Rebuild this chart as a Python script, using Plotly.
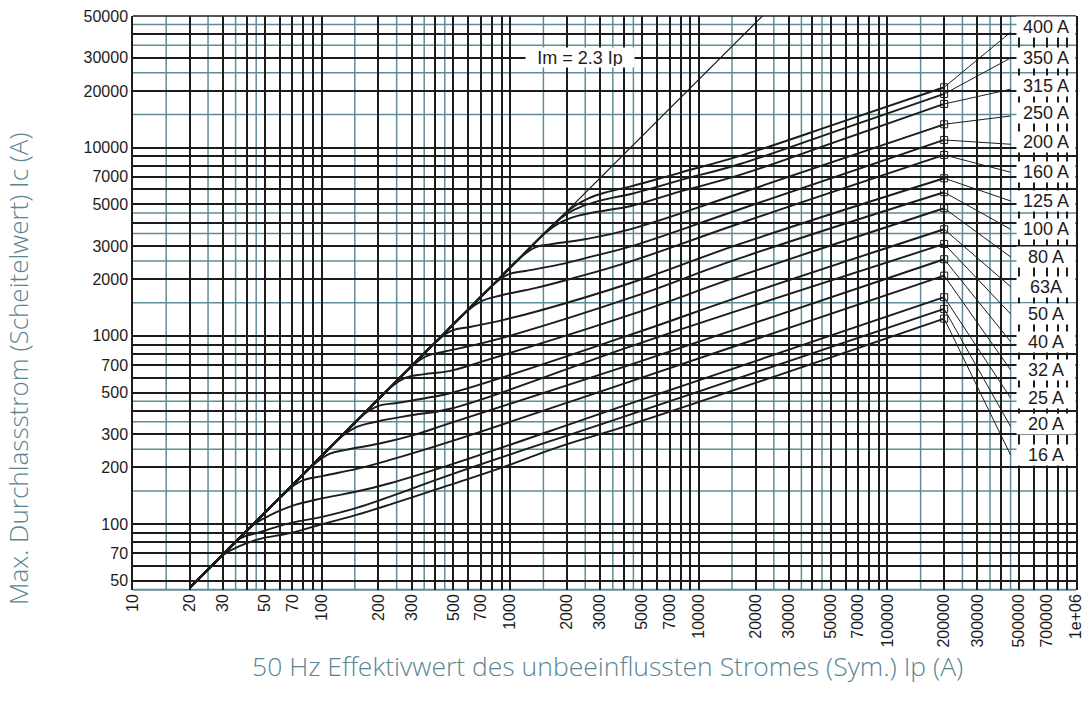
import math
import plotly.graph_objects as go

# ---------------- data ----------------
ratings = ["16 A", "20 A", "25 A", "32 A", "40 A", "50 A", "63A", "80 A",
           "100 A", "125 A", "160 A", "200 A", "250 A", "315 A", "350 A", "400 A"]

ip_16 = [20, 25, 31, 45, 68, 102, 153, 230, 480, 919, 1912, 4315, 200000]
ic_16 = [46, 57.5, 70, 82.5, 89.6, 100.4, 112, 127, 161.7, 201, 262, 337, 1235]
ip_20 = [20, 28, 37, 45.3, 68, 102, 153.5, 230.5, 480, 4315, 200000]
ic_20 = [46, 64.4, 84, 89.6, 101.2, 109.7, 122, 140, 182.7, 382, 1391]
ip_25 = [20, 32, 44, 50, 68, 102, 153.5, 230.5, 480, 4315, 200000]
ic_25 = [46, 73.6, 100, 108, 124, 137.4, 149, 165, 206.5, 437, 1605]
ip_32 = [20, 40, 62, 76.7, 102, 153.5, 230.5, 480, 4315, 200000]
ic_32 = [46, 92, 142, 168, 180.5, 196.6, 219.5, 274.6, 572, 2089]
ip_40 = [20, 55, 90, 110, 135, 206, 317, 480, 4315, 200000]
ic_40 = [46, 126.5, 205, 236, 248, 269, 300, 344, 701, 2553]
ip_50 = [20, 80, 125, 150, 200, 305, 480, 4315, 16540, 200000]
ic_50 = [46, 184, 286, 325, 352, 380, 410, 877, 1374, 3078]
ip_63 = [20, 110, 165, 200, 250, 359, 480, 4315, 16540, 200000]
ic_63 = [46, 253, 378, 425, 440, 468, 496, 1012, 1617, 3684]
ip_80 = [20, 150, 230, 280, 350, 480, 700, 4315, 16540, 200000]
ic_80 = [46, 345, 528, 600, 626, 652, 728, 1292, 2082, 4764]
ip_100 = [20, 200, 295, 360, 450, 666, 1024, 4315, 16540, 200000]
ic_100 = [46, 460, 678, 780, 826, 901, 1009, 1590, 2585, 5793]
ip_125 = [20, 250, 400, 490, 620, 936, 1440, 4315, 16540, 200000]
ic_125 = [46, 575, 920, 1065, 1118, 1221, 1364, 1904, 3078, 6875]
ip_160 = [20, 350, 575, 700, 900, 1373, 2112, 4315, 16540, 200000]
ic_160 = [46, 805, 1322, 1525, 1643, 1798, 2013, 2480, 3965, 9140]
ip_200 = [20, 500, 800, 975, 1200, 1812, 2788, 4315, 16540, 200000]
ic_200 = [46, 1150, 1840, 2120, 2210, 2390, 2660, 2978, 4705, 10980]
ip_250 = [20, 700, 1130, 1370, 1650, 2483, 4315, 16540, 200000]
ic_250 = [46, 1610, 2599, 2960, 3070, 3260, 3680, 5721, 13300]
ip_315 = [20, 900, 1500, 1800, 2300, 3250, 4315, 8000, 16540, 60000, 200000]
ic_315 = [46, 2070, 3450, 3950, 4350, 4650, 4880, 5850, 7157, 11200, 17050]
ip_350 = [20, 1000, 1650, 2000, 2400, 3250, 4315, 8000, 16540, 60000, 200000]
ic_350 = [46, 2300, 3795, 4450, 4870, 5330, 5654, 6720, 8186, 12740, 19270]
ip_400 = [20, 1000, 1800, 2200, 2600, 3250, 4315, 8000, 16540, 60000, 200000]
ic_400 = [46, 2300, 4140, 4900, 5380, 5800, 6203, 7370, 9028, 13900, 20915]

curves_ip = [ip_16, ip_20, ip_25, ip_32, ip_40, ip_50, ip_63, ip_80,
             ip_100, ip_125, ip_160, ip_200, ip_250, ip_315, ip_350, ip_400]
curves_ic = [ic_16, ic_20, ic_25, ic_32, ic_40, ic_50, ic_63, ic_80,
             ic_100, ic_125, ic_160, ic_200, ic_250, ic_315, ic_350, ic_400]

# thin leader from the marker (at 200 kA) to the label column
end_ip = 450000
end_ic = [233, 330, 468, 660, 932, 1308, 1826, 2626, 3684, 5208, 7398,
          10420, 14720, 20410, 29920, 40980]

# envelope Im = 2.3 Ip
env_ip = [20, 30000]
env_ic = [46, 69000]
env_label = "Im = 2.3 Ip"

x_tick_vals = [10, 20, 30, 50, 70, 100, 200, 300, 500, 700, 1000, 2000, 3000, 5000, 7000,
               10000, 20000, 30000, 50000, 70000, 100000, 200000, 300000, 500000, 700000, 1000000]
x_tick_text = ["10", "20", "30", "50", "70", "100", "200", "300", "500", "700", "1000", "2000",
               "3000", "5000", "7000", "10000", "20000", "30000", "50000", "70000", "100000",
               "200000", "300000", "500000", "700000", "1e+06"]
y_tick_vals = [50, 70, 100, 200, 300, 500, 700, 1000, 2000, 3000, 5000, 7000, 10000,
               20000, 30000, 50000]
y_tick_text = [str(v) for v in y_tick_vals]

x_title = "50 Hz Effektivwert des unbeeinflussten Stromes (Sym.) Ip (A)"
y_title = "Max. Durchlassstrom (Scheitelwert) Ic (A)"

# ---------------- styling ----------------
BLACK = "#1c1c1c"
TEAL = "#5f8d95"
TITLE = "#5c8593"
TXT = "Liberation Sans, Arial, sans-serif"
TFONT = "Open Sans, sans-serif"
X_RANGE = [1, 6]
Y_RANGE = [math.log10(44.7), math.log10(50000)]
W, H = 1087, 707
L, R, T, B = 133, 11, 16, 117
PW, PH = W - L - R, H - T - B
LABEL_X = 5.84
label_dy = [0, 3, 0, 0, 0, 0, 0, 0, 0, 0, 0, 2, 3, 3, 0, 5]

major_mant = [1, 2, 3, 4, 5, 6, 7, 8, 9]
teal_mant = [1.5, 2.5, 3.5, 4.5]


def grid_values(mants, lo_exp, hi_exp, lo, hi):
    out = []
    for e in range(lo_exp, hi_exp + 1):
        for m in mants:
            v = m * 10 ** e
            if lo - 1e-9 <= v <= hi + 1e-9:
                out.append(v)
    return out


x_grid = grid_values(major_mant, 1, 6, 10, 1e6)
y_grid = grid_values(major_mant, 1, 4, 44.7, 50000)
x_teal = grid_values(teal_mant, 1, 5, 10, 1e6)
y_teal = grid_values(teal_mant, 1, 4, 44.7, 50000)

x_labels = dict(zip(x_tick_vals, x_tick_text))
y_labels = dict(zip(y_tick_vals, y_tick_text))

fig = go.Figure()

fig.add_trace(go.Scatter(x=env_ip, y=env_ic, mode="lines",
                         line=dict(color=BLACK, width=1.2), hoverinfo="skip",
                         showlegend=False))

for name, xs, ys, ye in zip(ratings, curves_ip, curves_ic, end_ic):
    fig.add_trace(go.Scatter(x=xs, y=ys, mode="lines", name=name,
                             line=dict(color=BLACK, width=1.9, shape="spline", smoothing=1.2),
                             showlegend=False))
    fig.add_trace(go.Scatter(x=[xs[-1], end_ip], y=[ys[-1], ye], mode="lines",
                             line=dict(color=BLACK, width=1), showlegend=False,
                             hoverinfo="skip"))

fig.add_trace(go.Scatter(x=[c[-1] for c in curves_ip], y=[c[-1] for c in curves_ic],
                         mode="markers",
                         marker=dict(symbol="square-open", size=7, color=BLACK,
                                     line=dict(width=1, color=BLACK)),
                         showlegend=False))

shapes = []
for v in x_teal:
    shapes.append(dict(type="line", xref="x", yref="paper", x0=v, x1=v, y0=0, y1=1,
                       line=dict(color=TEAL, width=1.5), layer="below"))
for v in y_teal:
    shapes.append(dict(type="line", xref="paper", yref="y", x0=0, x1=1, y0=v, y1=v,
                       line=dict(color=TEAL, width=1.5), layer="below"))
shapes.append(dict(type="line", xref="paper", yref="paper", x0=0, x1=1, y0=1, y1=1,
                   line=dict(color=BLACK, width=1.5), layer="below"))
shapes.append(dict(type="line", xref="paper", yref="paper", x0=0, x1=1, y0=0, y1=0,
                   line=dict(color=TEAL, width=1.5), layer="below"))

annotations = []
for name, ye, dy in zip(ratings, end_ic, label_dy):
    annotations.append(dict(x=LABEL_X, y=math.log10(ye), xref="x", yref="y", text=name,
                            showarrow=False, bgcolor="white", width=56, height=18, yshift=dy,
                            font=dict(family=TXT, size=18, color=BLACK)))
annotations.append(dict(x=3.37, y=4.476, xref="x", yref="y", text=env_label,
                        showarrow=False, bgcolor="white", width=106, height=17,
                        font=dict(family=TXT, size=18, color=BLACK)))
annotations.append(dict(x=(607 - L) / PW, y=(H - B - 666) / PH, xref="paper", yref="paper",
                        xanchor="center", yanchor="middle",
                        text=x_title, showarrow=False,
                        font=dict(family=TFONT, size=26.5, color=TITLE, weight=300)))
annotations.append(dict(x=(18 - L) / PW, y=(H - B - 369) / PH, xref="paper", yref="paper",
                        xanchor="center", yanchor="middle",
                        text=y_title, showarrow=False, textangle=-90,
                        font=dict(family=TFONT, size=26, color=TITLE, weight=300)))

fig.update_layout(
    width=W, height=H,
    margin=dict(l=L, r=R, t=T, b=B, autoexpand=False),
    plot_bgcolor="white", paper_bgcolor="white",
    shapes=shapes, annotations=annotations,
    showlegend=False,
    xaxis=dict(type="log", range=X_RANGE, automargin=False,
               tickmode="array", tickvals=x_grid,
               ticktext=[x_labels.get(v, "") for v in x_grid],
               tickangle=-90, ticks="",
               tickfont=dict(family=TXT, size=16, color=BLACK),
               showgrid=True, gridcolor=BLACK, gridwidth=1.5,
               showline=False, zeroline=False),
    yaxis=dict(type="log", range=Y_RANGE, automargin=False,
               tickmode="array", tickvals=y_grid,
               ticktext=[y_labels.get(v, "") for v in y_grid],
               ticks="",
               tickfont=dict(family=TXT, size=16, color=BLACK),
               showgrid=True, gridcolor=BLACK, gridwidth=1.5,
               showline=True, mirror=True, linecolor=BLACK, linewidth=1.5,
               zeroline=False),
)

fig.write_html("out.html", config={"displayModeBar": False},
               post_script="document.body.style.margin='0';document.body.style.overflow='hidden';")
